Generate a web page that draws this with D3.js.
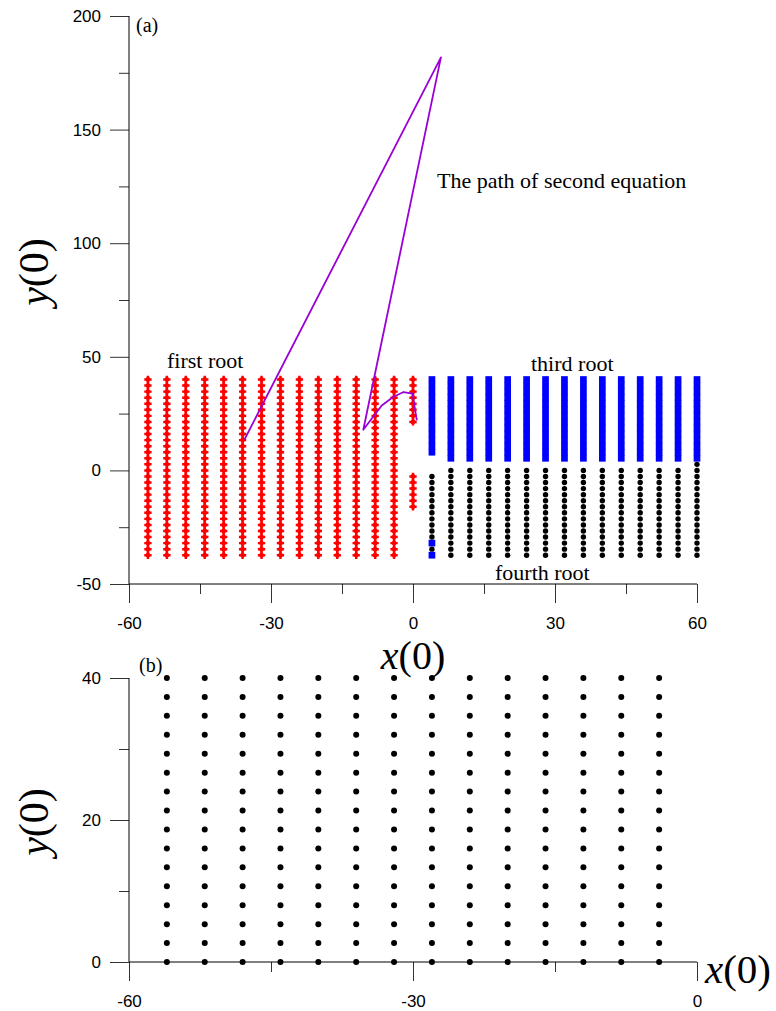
<!DOCTYPE html>
<html>
<head>
<meta charset="utf-8">
<script src="https://cdn.jsdelivr.net/npm/d3@7"></script>
<style>
  html, body { margin: 0; padding: 0; background: #fff; }
  svg { display: block; }
</style>
</head>
<body>
<svg id="chart" width="776" height="1011"></svg>
<script>
// ---- Panel (a): basins of the four roots over the initial-condition grid ----
const xColumnsA = [-56, -52, -48, -44, -40, -36, -32, -28, -24, -20, -16, -12, -8, -4, 0,
                   4, 8, 12, 16, 20, 24, 28, 32, 36, 40, 44, 48, 52, 56, 60];
const yRowsA = [40, 37.33, 34.67, 32, 29.33, 26.67, 24, 21.33, 18.67, 16, 13.33, 10.67, 8, 5.33, 2.67,
                0, -2.67, -5.33, -8, -10.67, -13.33, -16, -18.67, -21.33, -24, -26.67, -29.33, -32, -34.67, -37.33];
// One string per column, one character per row (top to bottom):
// '1' first root, '3' third root, '4' fourth root, '.' no convergence
const rootCodes = [
  "111111111111111111111111111111",
  "111111111111111111111111111111",
  "111111111111111111111111111111",
  "111111111111111111111111111111",
  "111111111111111111111111111111",
  "111111111111111111111111111111",
  "111111111111111111111111111111",
  "111111111111111111111111111111",
  "111111111111111111111111111111",
  "111111111111111111111111111111",
  "111111111111111111111111111111",
  "111111111111111111111111111111",
  "111111111111111111111111111111",
  "111111111111111111111111111111",
  "11111111........111111........",
  "3333333333333...44444444444343",
  "33333333333333.444444444444444",
  "33333333333333.444444444444444",
  "33333333333333.444444444444444",
  "33333333333333.444444444444444",
  "33333333333333.444444444444444",
  "33333333333333.444444444444444",
  "33333333333333.444444444444444",
  "33333333333333.444444444444444",
  "33333333333333.444444444444444",
  "33333333333333.444444444444444",
  "33333333333333.444444444444444",
  "33333333333333.444444444444444",
  "33333333333333.444444444444444",
  "333333333333334444444444444444"
];
// Trajectory of the second equation
const pathX = [-35.6, 5.9, -10.5, -6.6, -4.2, -2.0, -0.1, 0.8];
const pathY = [13.6, 181.8, 17.9, 28.6, 32.3, 34.5, 33.8, 22.0];

const xTicksA = [-60, -30, 0, 30, 60];
const xMinorA = [-45, -15, 15, 45];
const yTicksA = [-50, 0, 50, 100, 150, 200];
const yMinorA = [-25, 25, 75, 125, 175];

// ---- Panel (b): converging initial conditions ----
const xColumnsB = [-56, -52, -48, -44, -40, -36, -32, -28, -24, -20, -16, -12, -8, -4];
const yRowsB = [0, 2.67, 5.33, 8, 10.67, 13.33, 16, 18.67, 21.33, 24, 26.67, 29.33, 32, 34.67, 37.33, 40];
const xTicksB = [-60, -30, 0];
const xMinorB = [-45, -15];
const yTicksB = [0, 20, 40];
const yMinorB = [10, 30];

const svg = d3.select("#chart");
const tickFont = "'Liberation Sans', Arial, sans-serif";
const serif = "'Liberation Serif', 'Times New Roman', serif";
const plainNumber = d => String(d);

function drawAxes(g, x, y, xt, xm, yt, ym, xPad, yPad) {
  const [x0] = x.range();
  const [y0] = y.range();
  // minor ticks
  g.append("g").attr("transform", `translate(0,${y0})`)
    .call(d3.axisBottom(x).tickValues(xm).tickSize(10).tickSizeOuter(0).tickFormat(""))
    .call(s => s.select(".domain").remove());
  g.append("g").attr("transform", `translate(${x0},0)`)
    .call(d3.axisLeft(y).tickValues(ym).tickSize(10).tickSizeOuter(0).tickFormat(""))
    .call(s => s.select(".domain").remove());
  // major ticks with labels
  g.append("g").attr("transform", `translate(0,${y0})`)
    .call(d3.axisBottom(x).tickValues(xt).tickSize(19).tickPadding(xPad).tickSizeOuter(0).tickFormat(plainNumber))
    .call(s => s.select(".domain").remove());
  g.append("g").attr("transform", `translate(${x0},0)`)
    .call(d3.axisLeft(y).tickValues(yt).tickSize(19).tickPadding(yPad).tickSizeOuter(0).tickFormat(plainNumber))
    .call(s => s.select(".domain").remove());
  g.selectAll(".tick line").attr("stroke", "#333").attr("stroke-width", 1);
  g.selectAll(".tick text").attr("font-family", tickFont).attr("font-size", 17).attr("fill", "#000");
  // axis lines
  const xr = x.range(), yr = y.range();
  g.append("line").attr("x1", xr[0]).attr("x2", xr[1]).attr("y1", yr[0]).attr("y2", yr[0])
    .attr("stroke", "#000").attr("stroke-width", 1);
  g.append("line").attr("x1", xr[0]).attr("x2", xr[0]).attr("y1", yr[0]).attr("y2", yr[1])
    .attr("stroke", "#000").attr("stroke-width", 1);
}

function mathLabel(g, tx, ty, rotate, letter, size, anchor) {
  const t = g.append("text")
    .attr("transform", `translate(${tx},${ty})` + (rotate ? " rotate(-90)" : ""))
    .attr("text-anchor", anchor || "middle")
    .attr("font-family", serif).attr("font-size", size).attr("fill", "#000");
  t.append("tspan").attr("font-style", "italic").text(letter);
  t.append("tspan").text("(0)");
}

// ================= Panel (a) =================
const xA = d3.scaleLinear().domain([-60, 60]).range([129, 697]);
const yA = d3.scaleLinear().domain([-50, 200]).range([584, 16]);
const gA = svg.append("g");
drawAxes(gA, xA, yA, xTicksA, xMinorA, yTicksA, yMinorA, 14, 9);

const cells = [];
xColumnsA.forEach((xv, i) => {
  rootCodes[i].split("").forEach((c, j) => {
    if (c !== ".") cells.push({ x: xv, y: yRowsA[j], root: c });
  });
});

const crossSym = d3.symbol().type(d3.symbolCross).size(30);
const squareSym = d3.symbol().type(d3.symbolSquare).size(45);

gA.append("g").selectAll("path").data(cells.filter(d => d.root === "3")).join("path")
  .attr("d", squareSym).attr("transform", d => `translate(${xA(d.x)},${yA(d.y)})`)
  .attr("fill", "#0000ff");
gA.append("g").selectAll("circle").data(cells.filter(d => d.root === "4")).join("circle")
  .attr("cx", d => xA(d.x)).attr("cy", d => yA(d.y)).attr("r", 2.7).attr("fill", "#000");
const red = gA.append("g").selectAll("g").data(cells.filter(d => d.root === "1")).join("g")
  .attr("transform", d => `translate(${xA(d.x)},${yA(d.y)})`);
red.append("path").attr("d", crossSym).attr("fill", "#ff0000");
red.append("circle").attr("r", 2.4).attr("fill", "#ff0000");

const line = d3.line().x(d => xA(d[0])).y(d => yA(d[1]));
gA.append("path").datum(pathX.map((v, i) => [v, pathY[i]]))
  .attr("d", line).attr("fill", "none").attr("stroke", "#9b00d6").attr("stroke-width", 1.8)
  .attr("stroke-linejoin", "round");

const note = (g, x, y, txt, size) => g.append("text").attr("x", x).attr("y", y)
  .attr("font-family", serif).attr("font-size", size).attr("fill", "#000").text(txt);
note(gA, 136, 32, "(a)", 20);
note(gA, 437, 188, "The path of second equation", 22);
note(gA, 167, 368, "first root", 22);
note(gA, 531, 371, "third root", 22);
note(gA, 495, 580, "fourth root", 22);

mathLabel(gA, 413, 669, false, "x", 40);
mathLabel(gA, 48, 272, true, "y", 42);

// ================= Panel (b) =================
const xB = d3.scaleLinear().domain([-60, 0]).range([129, 697]);
const yB = d3.scaleLinear().domain([0, 40]).range([962, 678]);
const gB = svg.append("g");
drawAxes(gB, xB, yB, xTicksB, xMinorB, yTicksB, yMinorB, 14, 9);

const gridB = [];
xColumnsB.forEach(xv => yRowsB.forEach(yv => gridB.push({ x: xv, y: yv })));
gB.append("g").selectAll("circle").data(gridB).join("circle")
  .attr("cx", d => xB(d.x)).attr("cy", d => yB(d.y)).attr("r", 3).attr("fill", "#000");

note(gB, 139, 672, "(b)", 20);
mathLabel(gB, 705, 983, false, "x", 41, "start");
mathLabel(gB, 48, 822, true, "y", 42);
</script>
</body>
</html>
